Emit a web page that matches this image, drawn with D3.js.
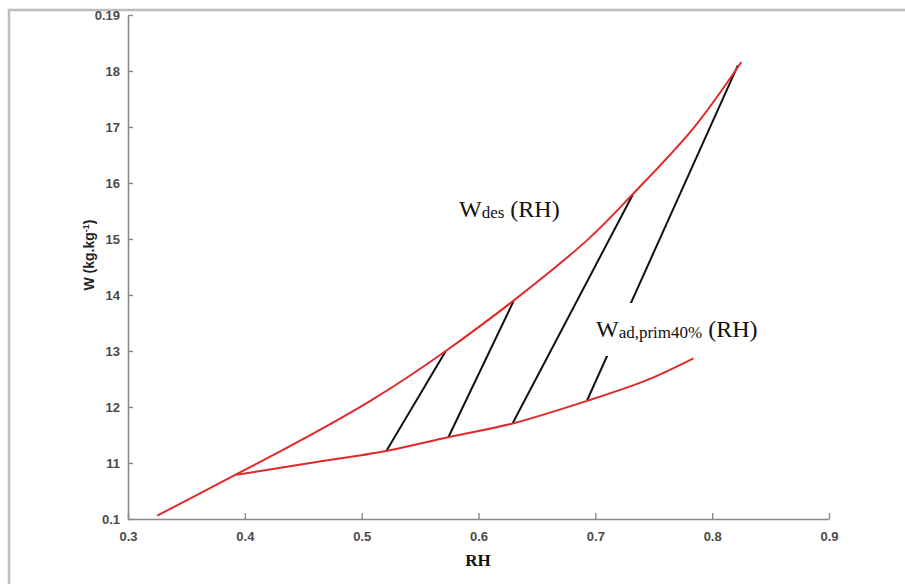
<!DOCTYPE html>
<html>
<head>
<meta charset="utf-8">
<script src="https://cdn.jsdelivr.net/npm/d3@7"></script>
<style>
  html, body { margin: 0; padding: 0; background: #fff; }
  svg { display: block; }
</style>
</head>
<body>
<svg id="chart" width="905" height="584"></svg>
<script>
// ---- data ----
const xTicks = [0.3, 0.4, 0.5, 0.6, 0.7, 0.8, 0.9];
const xTickLabels = ["0.3", "0.4", "0.5", "0.6", "0.7", "0.8", "0.9"];
const yTicks = [10, 11, 12, 13, 14, 15, 16, 17, 18, 19];
const yTickLabels = ["0.1", "11", "12", "13", "14", "15", "16", "17", "18", "0.19"];

// W_des(RH) upper curve
const desRH = [0.325, 0.36, 0.393, 0.433, 0.47, 0.505, 0.537, 0.572, 0.63, 0.693, 0.732, 0.784, 0.825];
const desW  = [10.06, 10.44, 10.80, 11.24, 11.66, 12.08, 12.50, 13.00, 13.90, 14.98, 15.80, 16.98, 18.16];

// W_ad,prim40%(RH) lower curve
const adRH = [0.393, 0.456, 0.522, 0.574, 0.63, 0.693, 0.744, 0.784];
const adW  = [10.79, 11.00, 11.22, 11.46, 11.71, 12.11, 12.48, 12.87];

// tie lines (start on lower curve, end on upper curve)
const tieRH0 = [0.521, 0.574, 0.629, 0.693];
const tieW0  = [11.21, 11.45, 11.70, 12.12];
const tieRH1 = [0.572, 0.630, 0.732, 0.822];
const tieW1  = [13.00, 13.89, 15.79, 18.10];

// ---- drawing ----
const svg = d3.select("#chart");
const x = d3.scaleLinear().domain([0.3, 0.9]).range([128, 829]);
const y = d3.scaleLinear().domain([10, 19]).range([519, 15]);

// outer frame (left + top)
svg.append("path")
  .attr("d", "M9,584V10H905")
  .attr("fill", "none")
  .attr("stroke", "#bdbdbd")
  .attr("stroke-width", 2.5);

const tickFont = "'Liberation Sans', Arial, Helvetica, sans-serif";

// x axis
const xAxis = d3.axisBottom(x)
  .tickValues(xTicks)
  .tickFormat((d, i) => xTickLabels[i])
  .tickSizeInner(-6)
  .tickSizeOuter(0)
  .tickPadding(13);
const gx = svg.append("g").attr("transform", "translate(0,519)").call(xAxis);

// y axis
const yAxis = d3.axisLeft(y)
  .tickValues(yTicks)
  .tickFormat((d, i) => yTickLabels[i])
  .tickSizeInner(-5)
  .tickSizeOuter(0)
  .tickPadding(8);
const gy = svg.append("g").attr("transform", "translate(128,0)").call(yAxis);

[gx, gy].forEach(g => {
  g.select(".domain").attr("stroke", "#8a8a8a").attr("stroke-width", 1.6);
  g.selectAll(".tick line").attr("stroke", "#8a8a8a").attr("stroke-width", 1.4);
  g.selectAll(".tick text")
    .attr("fill", "#4a4a4a")
    .attr("font-family", tickFont)
    .attr("font-weight", "bold")
    .attr("font-size", 13);
});

// axis titles
svg.append("text")
  .attr("x", 478).attr("y", 566)
  .attr("text-anchor", "middle")
  .attr("font-family", "'Liberation Serif', 'Times New Roman', serif")
  .attr("font-weight", "bold")
  .attr("font-size", 17)
  .attr("fill", "#111")
  .text("RH");

const yt = svg.append("text")
  .attr("transform", "translate(94,255) rotate(-90)")
  .attr("text-anchor", "middle")
  .attr("font-family", tickFont)
  .attr("font-weight", "bold")
  .attr("font-size", 14)
  .attr("fill", "#222");
yt.append("tspan").text("W (kg.kg");
yt.append("tspan").attr("dy", -5).attr("font-size", 9).text("-1");
yt.append("tspan").attr("dy", 5).text(")");

// curves
const line = d3.line().x(d => x(d[0])).y(d => y(d[1])).curve(d3.curveCatmullRom.alpha(0.5));
const desPts = desRH.map((r, i) => [r, desW[i]]);
const adPts = adRH.map((r, i) => [r, adW[i]]);

// tie lines
const ties = tieRH0.map((r, i) => [[r, tieW0[i]], [tieRH1[i], tieW1[i]]]);
svg.append("g").selectAll("path").data(ties).join("path")
  .attr("d", d => d3.line().x(p => x(p[0])).y(p => y(p[1]))(d))
  .attr("fill", "none")
  .attr("stroke", "#111")
  .attr("stroke-width", 2);

svg.append("path").datum(desPts)
  .attr("d", line)
  .attr("fill", "none")
  .attr("stroke", "#e02a2a")
  .attr("stroke-width", 2);
svg.append("path").datum(adPts)
  .attr("d", line)
  .attr("fill", "none")
  .attr("stroke", "#e02a2a")
  .attr("stroke-width", 2);

// annotations
const serif = "'Liberation Serif', 'Times New Roman', serif";
const t1 = svg.append("text")
  .attr("x", 459).attr("y", 217)
  .attr("font-family", serif).attr("font-size", 24).attr("fill", "#111");
t1.append("tspan").text("W");
t1.append("tspan").attr("font-size", 17).attr("dy", 1).text("des");
t1.append("tspan").attr("dy", -1).text(" (RH)");

// mask behind the second label (hides part of the last tie line)
const maskRect = svg.append("rect").attr("fill", "#fff");
const t2 = svg.append("text")
  .attr("x", 596).attr("y", 337)
  .attr("font-family", serif).attr("font-size", 24).attr("fill", "#111");
t2.append("tspan").text("W");
t2.append("tspan").attr("font-size", 17).attr("dy", 1).text("ad,prim40%");
t2.append("tspan").attr("dy", -1).text(" (RH)");
const bb = t2.node().getBBox();
maskRect.attr("x", bb.x - 4).attr("y", 303)
  .attr("width", bb.width + 8).attr("height", 53);
</script>
</body>
</html>
